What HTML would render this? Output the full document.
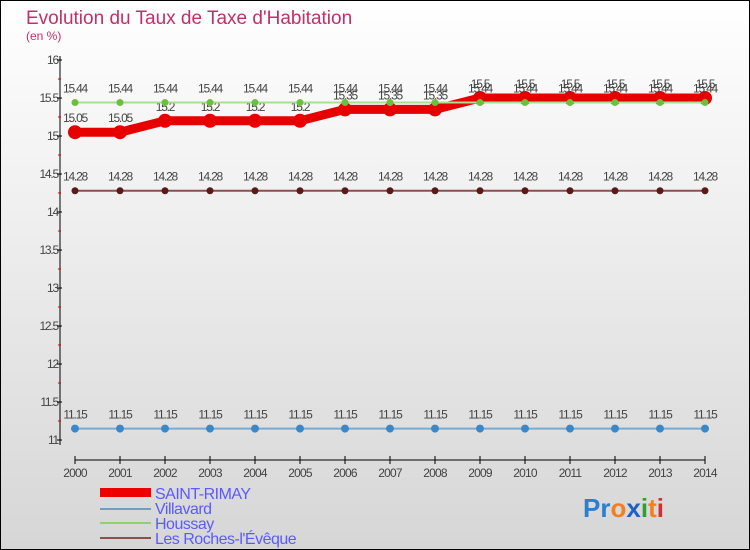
<!DOCTYPE html>
<html><head><meta charset="utf-8"><style>
body{margin:0}
svg{display:block;font-family:"Liberation Sans",sans-serif}
</style></head><body>
<svg id="c" width="750" height="550" xmlns="http://www.w3.org/2000/svg">
<defs><linearGradient id="bg" x1="0" y1="0" x2="0" y2="1"><stop offset="0" stop-color="#ffffff"/><stop offset="1" stop-color="#d6d6d6"/></linearGradient></defs>
<rect x="0.5" y="0.5" width="749" height="549" fill="url(#bg)" stroke="#000"/>
<text x="26" y="24" font-size="19" fill="#c0306a">Evolution du Taux de Taxe d'Habitation</text>
<text x="26" y="40" font-size="12" fill="#c0306a">(en %)</text>
<g id="axes"></g><g id="series"></g>
<g>
<rect x="100" y="488" width="51" height="9" fill="#e00"/>
<text x="155" y="499" font-size="16" fill="#5a5aff" letter-spacing="-0.5">SAINT-RIMAY</text>
<rect x="100" y="508" width="51" height="2" fill="#6a9fc8"/>
<text x="155" y="514" font-size="16" fill="#5a5aff" letter-spacing="-0.5">Villavard</text>
<rect x="100" y="522" width="51" height="2" fill="#8fd070"/>
<text x="155" y="529" font-size="16" fill="#5a5aff" letter-spacing="-0.5">Houssay</text>
<rect x="100" y="537" width="51" height="2" fill="#8a5050"/>
<text x="155" y="544" font-size="16" fill="#5a5aff" letter-spacing="-0.5">Les Roches-l'Évêque</text>
</g>
<text x="583" y="517" font-size="26" font-weight="bold"><tspan fill="#2a7fd0">Pr</tspan><tspan fill="#f08020">o</tspan><tspan fill="#2060c0">x</tspan><tspan fill="#30a030">i</tspan><tspan fill="#f08020">t</tspan><tspan fill="#d03030">i</tspan></text>
</svg>
<script>
const years=[2000,2001,2002,2003,2004,2005,2006,2007,2008,2009,2010,2011,2012,2013,2014];
const saintRimay=[15.05,15.05,15.2,15.2,15.2,15.2,15.35,15.35,15.35,15.5,15.5,15.5,15.5,15.5,15.5];
const villavard=[11.15,11.15,11.15,11.15,11.15,11.15,11.15,11.15,11.15,11.15,11.15,11.15,11.15,11.15,11.15];
const houssay=[15.44,15.44,15.44,15.44,15.44,15.44,15.44,15.44,15.44,15.44,15.44,15.44,15.44,15.44,15.44];
const lesRoches=[14.28,14.28,14.28,14.28,14.28,14.28,14.28,14.28,14.28,14.28,14.28,14.28,14.28,14.28,14.28];
const yTicks=[11,11.5,12,12.5,13,13.5,14,14.5,15,15.5,16];
const NS="http://www.w3.org/2000/svg";
const x=i=>75+i*45;
const y=v=>440-(v-11)*76;
function mk(tag,attrs,parent){const e=document.createElementNS(NS,tag);for(const k in attrs)e.setAttribute(k,attrs[k]);parent.appendChild(e);return e;}
const ax=document.getElementById('axes');
let a=mk('line',{x1:60,y1:56,x2:60,y2:445,stroke:'#000'},ax);


a=mk('line',{x1:75,y1:460,x2:705,y2:460,stroke:'#000'},ax);


yTicks.forEach(v=>{
 const t=mk('text',{x:58,y:y(v)+4,'font-size':12,fill:'#444','text-anchor':'end','letter-spacing':'-1.2'},ax);t.textContent=String(v);
 
 
 mk('line',{x1:57,y1:y(v),x2:62,y2:y(v),stroke:'#000'},ax);
 if(v<16) mk('line',{x1:58,y1:y(v+0.25),x2:61,y2:y(v+0.25),stroke:'#d00'},ax);
});
years.forEach((yr,i)=>{
 mk('line',{x1:x(i),y1:456,x2:x(i),y2:464,stroke:'#000'},ax);
 const t=mk('text',{x:x(i),y:477,'font-size':12,fill:'#444','text-anchor':'middle','letter-spacing':'-0.8'},ax);t.textContent=String(yr);
 
 
});
const sg=document.getElementById('series');
function draw(data,name,color,dot,w,r){
 const g=mk('g',{},sg);
 
 
 const l=mk('polyline',{points:data.map((v,i)=>x(i)+','+y(v)).join(' '),fill:'none',stroke:color,'stroke-width':w,'stroke-linejoin':'round'},g);
 
 
 data.forEach((v,i)=>{
  const c=mk('circle',{cx:x(i),cy:y(v),r:r,fill:dot},g);
  
  
  const t=mk('text',{x:x(i),y:y(v)-10,'font-size':12,fill:'#444','text-anchor':'middle','letter-spacing':'-1.2'},g);t.textContent=String(v);
  
  
 });
}
draw(villavard,'villavard','#7aaad0','#3a88c8',2,4);
draw(lesRoches,'les-roches','#8a5050','#5a1a1a',2,3.5);
draw(saintRimay,'saint-rimay','#e60000','#e60000',9,7);
draw(houssay,'houssay','#a8e090','#6cc040',2,3.5);
</script>
</body></html>
